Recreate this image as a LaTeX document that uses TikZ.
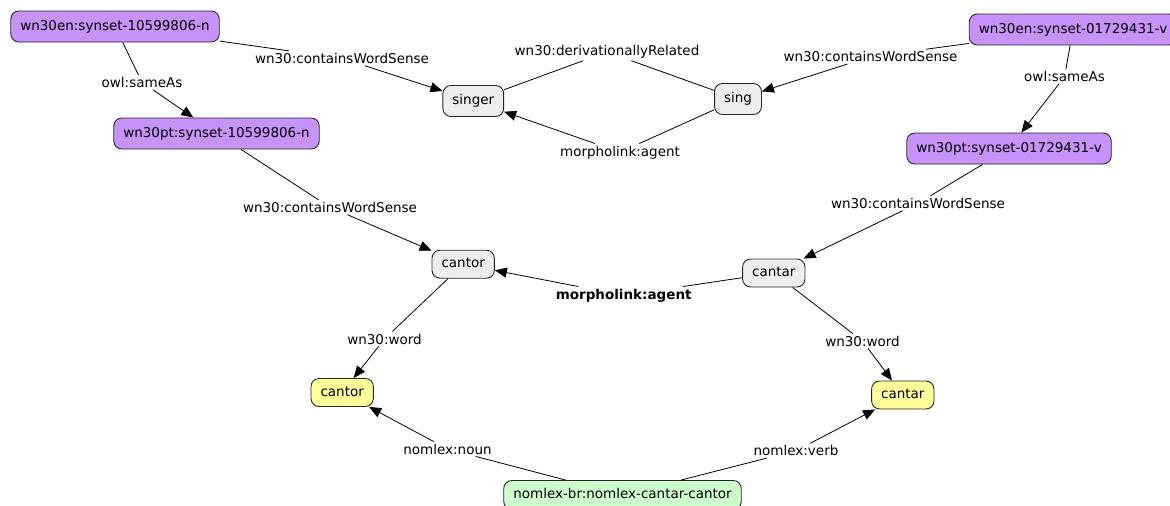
\documentclass[tikz,border=0pt]{standalone}
\usepackage{fontspec}
\setmainfont{DejaVu Sans}
\usetikzlibrary{arrows.meta}
\definecolor{synfill}{HTML}{C792F9}
\definecolor{grayfill}{HTML}{EEEEEE}
\definecolor{yelfill}{HTML}{FFFF99}
\definecolor{grnfill}{HTML}{CCFFCC}
\begin{document}
\begin{tikzpicture}[x=1pt,y=-1pt,
  basebox/.style={draw=black!85, line width=0.9pt, rounded corners=8pt,
    inner xsep=9.5pt, inner ysep=0pt, text height=10pt, text depth=3pt,
    font=\fontsize{13.5}{16}\selectfont},
  synbox/.style={basebox, fill=synfill, minimum height=31pt},
  sensebox/.style={basebox, fill=grayfill, minimum height=28pt},
  wordbox/.style={basebox, fill=yelfill, minimum height=28pt},
  lexbox/.style={basebox, fill=grnfill, minimum height=29pt},
  lbl/.style={font=\fontsize{13.5}{16}\selectfont, inner sep=2pt, anchor=base},
  edge/.style={draw=black, line width=0.8pt},
  arr/.style={edge, -{Triangle[length=12pt,width=10pt]}}]
\useasboundingbox (0,0) rectangle (1170,506);

% nodes
\node[synbox] (en1) at (115,26.5) {wn30en:synset-10599806-n};
\node[synbox] (pt1) at (216.5,133.5) {wn30pt:synset-10599806-n};
\node[synbox] (en2) at (1073,29.5) {wn30en:synset-01729431-v};
\node[synbox] (pt2) at (1009,148.5) {wn30pt:synset-01729431-v};
\node[sensebox, minimum height=31pt] (singer) at (473.3,101) {singer};
\node[sensebox, minimum height=31pt] (sing) at (738,99) {sing};
\node[sensebox] (cantorS) at (463.2,264.2) {cantor};
\node[sensebox] (cantarS) at (773.8,273) {cantar};
\node[wordbox] (cantorW) at (342.2,392.5) {cantor};
\node[wordbox] (cantarW) at (902.8,395) {cantar};
\node[lexbox] (nl) at (622.5,495) {nomlex-br:nomlex-cantar-cantor};

% labels
\node[lbl] (l1) at (342,63.3) {wn30:containsWordSense};
\node[lbl] (l2) at (142,87.3) {owl:sameAs};
\node[lbl] (l3) at (607,55.7) {wn30:derivationallyRelated};
\node[lbl] (l4) at (620,156) {morpholink:agent};
\node[lbl] (l5) at (870.5,61.7) {wn30:containsWordSense};
\node[lbl] (l6) at (1064.5,81.7) {owl:sameAs};
\node[lbl] (l7) at (330,212.3) {wn30:containsWordSense};
\node[lbl] (l8) at (918,208.3) {wn30:containsWordSense};
\node[lbl, font=\fontsize{13.5}{16}\selectfont\bfseries] (l9) at (623.7,299) {morpholink:agent};
\node[lbl] (l10) at (384.5,344) {wn30:word};
\node[lbl] (l11) at (862.5,346) {wn30:word};
\node[lbl] (l12) at (447.5,454) {nomlex:noun};
\node[lbl] (l13) at (796,455.7) {nomlex:verb};

% edges
\draw[arr] (en1) -- (l1) -- (singer);
\draw[arr] (en1) -- (l2) -- (pt1);
\draw[edge] (singer) -- (l3) -- (sing);
\draw[arr] (sing) -- (l4) -- (singer);
\draw[arr] (en2) -- (l5) -- (sing);
\draw[arr] (en2) -- (l6) -- (pt2);
\draw[arr] (pt1) -- (l7) -- (cantorS);
\draw[arr] (pt2) -- (l8) -- (cantarS);
\draw[arr] (cantarS) -- (l9) -- (cantorS);
\draw[arr] (cantorS) -- (l10) -- (cantorW);
\draw[arr] (cantarS) -- (l11) -- (cantarW);
\draw[arr] (nl) -- (l12) -- (cantorW);
\draw[arr] (nl) -- (l13) -- (cantarW);
\end{tikzpicture}
\end{document}
